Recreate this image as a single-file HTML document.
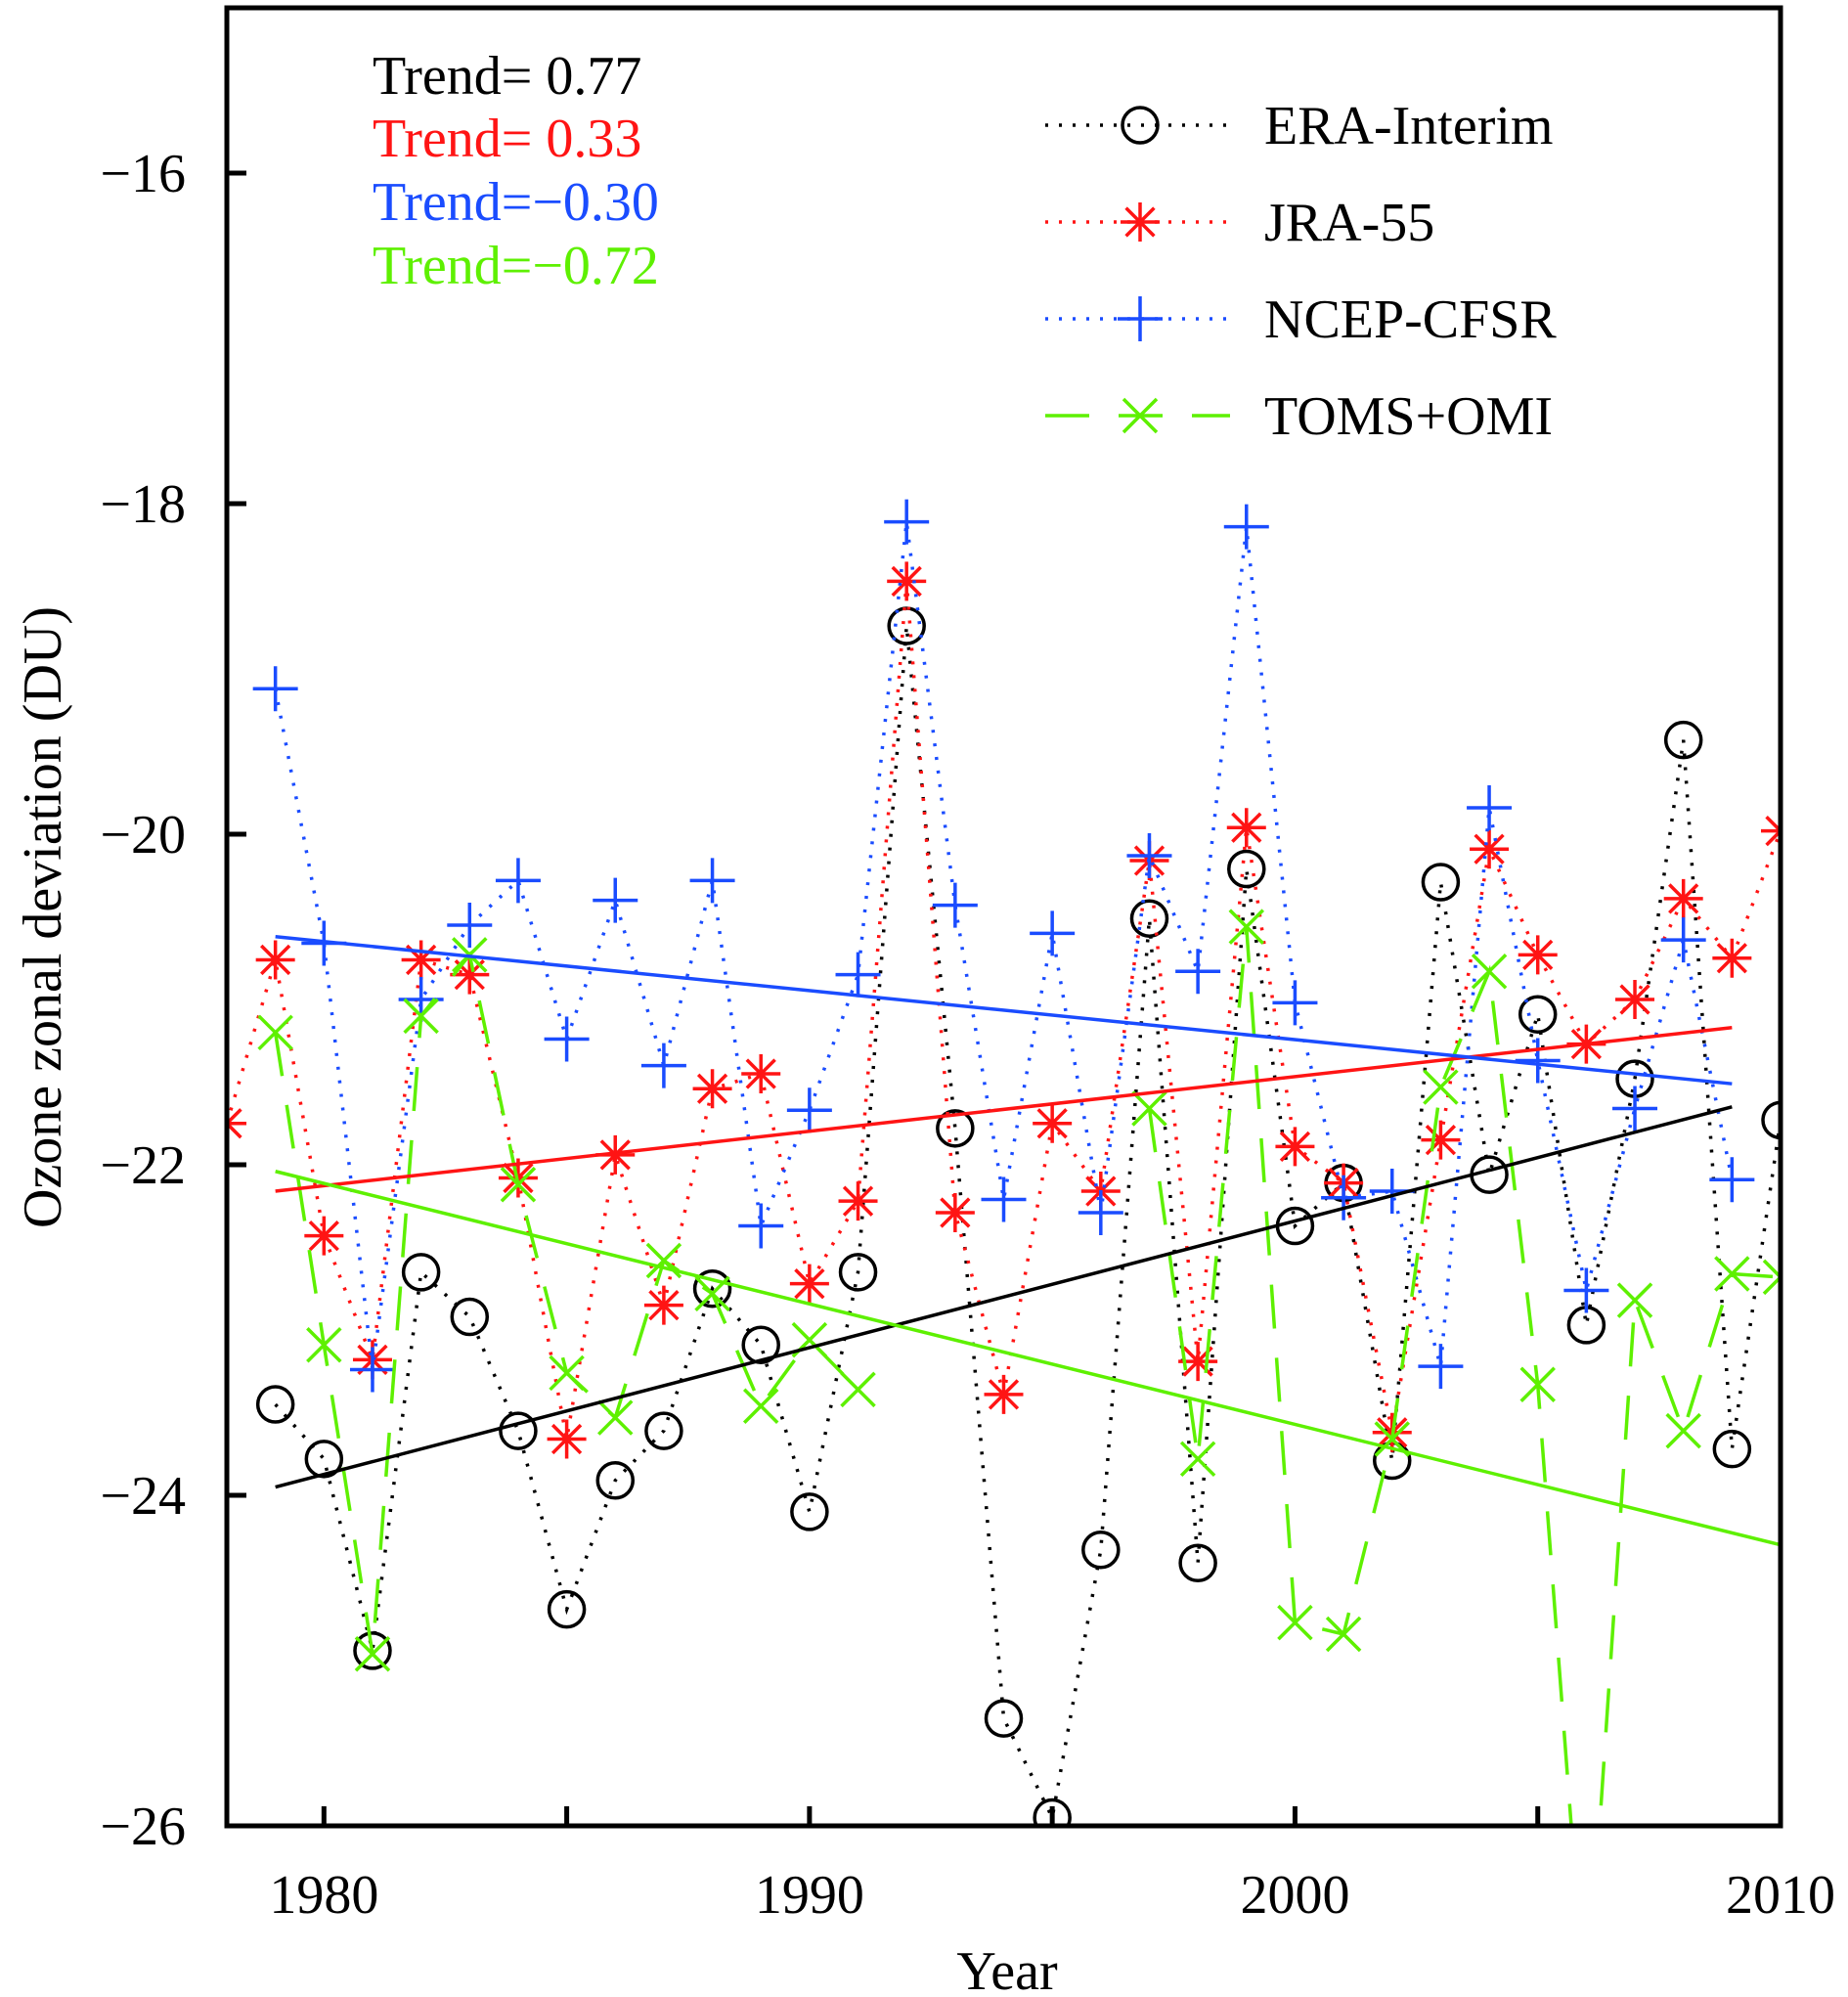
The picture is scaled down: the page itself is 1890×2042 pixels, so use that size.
<!DOCTYPE html>
<html><head><meta charset="utf-8"><style>
html,body{margin:0;padding:0;background:#fff;overflow:hidden}
svg{display:block}
text{font-family:"Liberation Serif",serif}
</style></head><body>
<svg id="chart" width="1890" height="2042" viewBox="0 0 1890 2042" xmlns="http://www.w3.org/2000/svg"></svg>
<script>
const yearsEra=[1979,1980,1981,1982,1983,1984,1985,1986,1987,1988,1989,1990,1991,1992,1993,1994,1995,1996,1997,1998,1999,2000,2001,2002,2003,2004,2005,2006,2007,2008,2009,2010];
const eraValues=[-23.45,-23.78,-24.94,-22.65,-22.92,-23.61,-24.69,-23.91,-23.61,-22.75,-23.09,-24.10,-22.65,-18.74,-21.78,-25.35,-25.95,-24.33,-20.51,-24.41,-20.21,-22.37,-22.11,-23.79,-20.29,-22.06,-21.09,-22.97,-21.48,-19.43,-23.72,-21.73];
const yearsJra=[1978,1979,1980,1981,1982,1983,1984,1985,1986,1987,1988,1989,1990,1991,1992,1993,1994,1995,1996,1997,1998,1999,2000,2001,2002,2003,2004,2005,2006,2007,2008,2009,2010];
const jraValues=[-21.75,-20.76,-22.43,-23.18,-20.76,-20.85,-22.08,-23.66,-21.94,-22.85,-21.54,-21.45,-22.72,-22.22,-18.47,-22.29,-23.39,-21.75,-22.16,-20.16,-23.19,-19.96,-21.89,-22.11,-23.62,-21.85,-20.09,-20.73,-21.27,-21.00,-20.39,-20.75,-19.98];
const yearsNcep=[1979,1980,1981,1982,1983,1984,1985,1986,1987,1988,1989,1990,1991,1992,1993,1994,1995,1996,1997,1998,1999,2000,2001,2002,2003,2004,2005,2006,2007,2008,2009];
const ncepValues=[-19.12,-20.66,-23.24,-21.00,-20.55,-20.28,-21.24,-20.40,-21.40,-20.28,-22.37,-21.67,-20.85,-18.11,-20.43,-22.21,-20.60,-22.29,-20.13,-20.83,-18.14,-21.02,-22.20,-22.16,-23.22,-19.84,-21.37,-22.76,-21.66,-20.64,-22.09];
const yearsToms=[1979,1980,1981,1982,1983,1984,1985,1986,1987,1988,1989,1990,1991,1997,1998,1999,2000,2001,2002,2003,2004,2005,2006,2007,2008,2009,2010];
const tomsValues=[-21.20,-23.09,-24.96,-21.10,-20.73,-22.12,-23.26,-23.53,-22.58,-22.78,-23.46,-23.06,-23.36,-21.66,-23.78,-20.56,-24.77,-24.84,-23.66,-21.53,-20.83,-23.33,-27.2,-22.82,-23.61,-22.66,-22.68];
const tomsSegments=[[1979,1991],[1997,2010]];
const trendStartYears=[1979,1979,1979,1979];
const trendEndYears=[2009,2009,2009,2010];
const trendStartValues=[-23.95,-22.16,-20.62,-22.04];
const trendEndValues=[-21.65,-21.17,-21.51,-24.30];
const trendLabels=["Trend= 0.77","Trend= 0.33","Trend=\u22120.30","Trend=\u22120.72"];
const yTicks=[-16,-18,-20,-22,-24,-26];
const xTicks=[1980,1985,1990,1995,2000,2005,2010];
const xTickLabels=[1980,1990,2000,2010];
const legendLabels=["ERA-Interim","JRA-55","NCEP-CFSR","TOMS+OMI"];

const L=232,R=1821,T=8,B=1867;
const X0=1978,X1=2010,Y0=-26,Y1=-15;
const sx=v=>L+(v-X0)/(X1-X0)*(R-L);
const sy=v=>B-(v-Y0)/(Y1-Y0)*(B-T);
const NS="http://www.w3.org/2000/svg";
const svg=document.getElementById('chart');
function mk(tag,attrs,parent){const e=document.createElementNS(NS,tag);for(const k in attrs)e.setAttribute(k,attrs[k]);(parent||svg).appendChild(e);return e;}
const COL={k:"#000",r:"#ff1414",b:"#1a4cff",g:"#5ef000"};

const defs=mk('defs',{});
const cp=mk('clipPath',{id:'plotclip'},defs);
mk('rect',{x:L,y:T,width:R-L,height:B-T},cp);

const plot=mk('g',{'clip-path':'url(#plotclip)'});



function marker(type,cx,cy,color,g){
  if(type==='o'){mk('circle',{cx,cy,r:18,fill:'none',stroke:color,'stroke-width':3.5},g);}
  else if(type==='*'){const s=20;
    mk('path',{d:`M${cx-s} ${cy}H${cx+s}M${cx} ${cy-s}V${cy+s}M${cx-s*.72} ${cy-s*.72}L${cx+s*.72} ${cy+s*.72}M${cx-s*.72} ${cy+s*.72}L${cx+s*.72} ${cy-s*.72}`,stroke:color,'stroke-width':3.5,fill:'none'},g);}
  else if(type==='+'){const s=23;
    mk('path',{d:`M${cx-s} ${cy}H${cx+s}M${cx} ${cy-s}V${cy+s}`,stroke:color,'stroke-width':3.5,fill:'none'},g);}
  else if(type==='x'){const s=17;
    mk('path',{d:`M${cx-s} ${cy-s}L${cx+s} ${cy+s}M${cx-s} ${cy+s}L${cx+s} ${cy-s}`,stroke:color,'stroke-width':3.5,fill:'none'},g);}
}
function series(name,years,vals,color,mtype,dash,segs){
  const g=mk('g',{},plot);
  
  
  const groups=[];
  if(segs){segs.forEach(s=>{const pts=[];years.forEach((y,i)=>{if(y>=s[0]&&y<=s[1])pts.push([y,vals[i]]);});groups.push(pts);});}
  else groups.push(years.map((y,i)=>[y,vals[i]]));
  groups.forEach(pts=>{
    const line=mk('polyline',{points:pts.map(p=>sx(p[0])+','+sy(p[1])).join(' '),fill:'none',stroke:color,'stroke-width':3.5,'stroke-dasharray':dash},g);
    
    
  });
  years.forEach((y,i)=>marker(mtype,sx(y),sy(vals[i]),color,g));
}
series('era-interim-series',yearsEra,eraValues,COL.k,'o','3 11');
series('jra55-series',yearsJra,jraValues,COL.r,'*','3 11');
series('ncep-cfsr-series',yearsNcep,ncepValues,COL.b,'+','3 11');
series('toms-omi-series',yearsToms,tomsValues,COL.g,'x','45 30',tomsSegments);

const trendColors=[COL.k,COL.r,COL.b,COL.g];
const trendNames=['trend-era-interim','trend-jra55','trend-ncep-cfsr','trend-toms-omi'];
for(let i=0;i<4;i++){
  const l=mk('line',{x1:sx(trendStartYears[i]),y1:sy(trendStartValues[i]),x2:sx(trendEndYears[i]),y2:sy(trendEndValues[i]),stroke:trendColors[i],'stroke-width':3.5},plot);
  
  
}

const frame=mk('rect',{x:L,y:T,width:R-L,height:B-T,fill:'none',stroke:'#000','stroke-width':5});



yTicks.forEach(v=>{
  const t=mk('line',{x1:L,x2:L+20,y1:sy(v),y2:sy(v),stroke:'#000','stroke-width':5});
  
  
  const tx=mk('text',{x:190,y:sy(v)+19,'font-size':56,'text-anchor':'end'});
  tx.textContent=String(v).replace('-','\u2212');
  
  
});
xTicks.forEach(v=>{
  const t=mk('line',{x1:sx(v),x2:sx(v),y1:B,y2:B-20,stroke:'#000','stroke-width':5});
  
  
});
xTickLabels.forEach(v=>{
  const tx=mk('text',{x:sx(v),y:1956,'font-size':56,'text-anchor':'middle'});
  tx.textContent=v;
  
  
});
const xt=mk('text',{x:1030,y:2034,'font-size':56,'text-anchor':'middle'});
xt.textContent='Year';


const yt=mk('text',{x:0,y:0,'font-size':56,'text-anchor':'middle',transform:'translate(62,938) rotate(-90)'});
yt.textContent='Ozone zonal deviation (DU)';



const trendY=[96,160,225,290];
for(let i=0;i<4;i++){
  const tx=mk('text',{x:381,y:trendY[i],'font-size':56,fill:trendColors[i]});
  tx.textContent=trendLabels[i];
  
  
}

const legY=[128,227,326,425];
const legM=['o','*','+','x'];
const legDash=['3 11','3 11','3 11','45 30'];
const legNames=['legend-era-interim','legend-jra55','legend-ncep-cfsr','legend-toms-omi'];
for(let i=0;i<4;i++){
  const g=mk('g',{});
  
  
  mk('line',{x1:1069,x2:1258,y1:legY[i],y2:legY[i],stroke:trendColors[i],'stroke-width':3.5,'stroke-dasharray':legDash[i]},g);
  marker(legM[i],1166,legY[i],trendColors[i],g);
  const tx=mk('text',{x:1293,y:legY[i]+19,'font-size':56},g);
  tx.textContent=legendLabels[i];
}
</script>
</body></html>
